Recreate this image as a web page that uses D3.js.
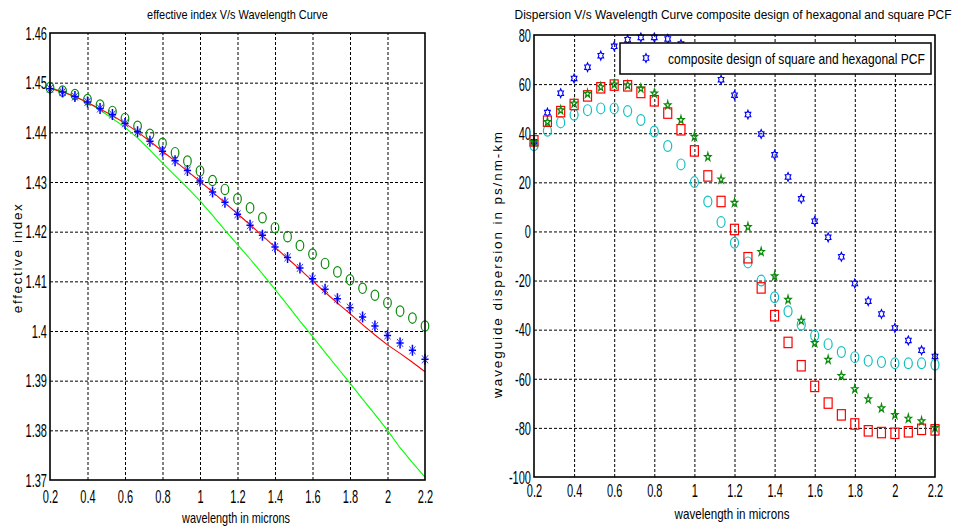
<!DOCTYPE html>
<html>
<head>
<meta charset="utf-8">
<script src="https://cdn.jsdelivr.net/npm/d3@7"></script>
<style>
  html, body { margin: 0; padding: 0; background: #fff; }
  svg { display: block; font-family: "Liberation Sans", Arial, sans-serif; }
</style>
</head>
<body>
<svg id="fig" width="954" height="528"></svg>
<script>
// ---- shared wavelength samples (microns) ----
const wavelength = [0.2, 0.267, 0.333, 0.4, 0.467, 0.533, 0.6, 0.667, 0.733, 0.8,
  0.867, 0.933, 1.0, 1.067, 1.133, 1.2, 1.267, 1.333, 1.4, 1.467,
  1.533, 1.6, 1.667, 1.733, 1.8, 1.867, 1.933, 2.0, 2.067, 2.133, 2.2];

// ---- effective index panel ----
const indexStars = [1.4488, 1.4481, 1.4472, 1.4461, 1.4448, 1.4436, 1.4418, 1.4401, 1.4382, 1.4362,
  1.4343, 1.4323, 1.4302, 1.4280, 1.4259, 1.4235, 1.4213, 1.4193, 1.4169, 1.4148,
  1.4127, 1.4105, 1.4084, 1.4065, 1.4047, 1.4028, 1.4010, 1.3991, 1.3976, 1.3961, 1.3943];
const indexCircles = [1.4490, 1.4483, 1.4476, 1.4466, 1.4455, 1.4442, 1.4428, 1.4412, 1.4396, 1.4378,
  1.4359, 1.4342, 1.4322, 1.4303, 1.4285, 1.4266, 1.4248, 1.4228, 1.4208, 1.4190,
  1.4172, 1.4155, 1.4136, 1.4119, 1.4103, 1.4086, 1.4072, 1.4057, 1.4040, 1.4026, 1.4010];
const indexRedLine = [1.4489, 1.4481, 1.4472, 1.4460, 1.4447, 1.4434, 1.4418, 1.4401, 1.4382, 1.4362,
  1.4342, 1.4322, 1.4301, 1.4280, 1.4258, 1.4236, 1.4214, 1.4192, 1.4169, 1.4146,
  1.4124, 1.4101, 1.4078, 1.4056, 1.4035, 1.4013, 1.3992, 1.3972, 1.3955, 1.3937, 1.3918];
const indexGreenLine = [1.4490, 1.4482, 1.4472, 1.4460, 1.4445, 1.4428, 1.4410, 1.4389, 1.4364, 1.4338,
  1.4313, 1.4288, 1.4262, 1.4233, 1.4203, 1.4174, 1.4145, 1.4115, 1.4084, 1.4052,
  1.4020, 1.3989, 1.3957, 1.3926, 1.3895, 1.3863, 1.3832, 1.3800, 1.3765, 1.3735, 1.3706];

// ---- dispersion panel (ps/nm-km) ----
const dispHexagram = [36.5, 48.4, 56.3, 62.3, 66.9, 71.6, 75.4, 78.1, 79.0, 79.0,
  78.4, 76.3, 72.8, 68.1, 61.8, 55.5, 47.6, 39.7, 31.2, 22.2,
  13.3, 4.2, -2.4, -10.3, -21.2, -28.4, -33.6, -39.3, -44.4, -48.4, -50.9];
const dispPentagram = [36.5, 44.6, 49.4, 52.1, 56.1, 58.8, 59.9, 59.6, 58.2, 56.2,
  51.4, 45.4, 38.6, 30.3, 21.2, 11.7, 1.8, -8.3, -18.2, -27.8,
  -36.3, -45.4, -52.2, -58.8, -64.2, -68.3, -72.0, -74.7, -76.2, -77.3, -79.9];
const dispSquares = [36.9, 44.9, 48.8, 51.7, 55.2, 58.5, 59.6, 59.3, 56.6, 53.2,
  48.2, 41.4, 32.8, 22.6, 12.2, 0.8, -10.7, -23.0, -34.3, -45.2,
  -54.7, -63.1, -69.9, -74.7, -78.4, -81.2, -81.9, -82.2, -81.6, -80.6, -80.8];
const dispCircles = [35.1, 41.0, 44.4, 47.5, 49.4, 50.1, 50.1, 49.0, 45.4, 40.7,
  34.8, 27.3, 20.1, 12.2, 3.8, -4.6, -12.6, -20.0, -26.8, -32.5,
  -38.0, -42.4, -45.9, -49.1, -51.2, -52.7, -53.2, -53.7, -53.7, -53.7, -54.3];

// ---- ticks and labels ----
const xTicks = [0.2, 0.4, 0.6, 0.8, 1.0, 1.2, 1.4, 1.6, 1.8, 2.0, 2.2];
const xTickLabels = ["0.2", "0.4", "0.6", "0.8", "1", "1.2", "1.4", "1.6", "1.8", "2", "2.2"];
const indexTicks = [1.37, 1.38, 1.39, 1.40, 1.41, 1.42, 1.43, 1.44, 1.45, 1.46];
const indexTickLabels = ["1.37", "1.38", "1.39", "1.4", "1.41", "1.42", "1.43", "1.44", "1.45", "1.46"];
const dispTicks = [-100, -80, -60, -40, -20, 0, 20, 40, 60, 80];
const dispTickLabels = ["-100", "-80", "-60", "-40", "-20", "0", "20", "40", "60", "80"];

const leftTitle = "effective index V/s Wavelength Curve";
const rightTitle = "Dispersion V/s Wavelength Curve composite design of hexagonal and square PCF";
const xTitle = "wavelength in microns";
const leftYTitle = "effective index";
const rightYTitle = "waveguide dispersion in ps/nm-km";
const legendLabel = "composite design of square and hexagonal PCF";

const svg = d3.select("#fig");

const TICK_FONT = 17.5;
const TICK_SQUEEZE = 0.63;

// Condensed text: drawn at natural size then squeezed horizontally.
function squeezedText(parent, x, y, str, opt) {
  const t = parent.append("text")
    .text(str)
    .attr("font-size", opt.size)
    .attr("text-anchor", opt.anchor || "start")
    .attr("fill", "#000");
  let sx = opt.sx || TICK_SQUEEZE;
  if (opt.width) sx = opt.width / t.node().getComputedTextLength();
  t.attr("transform", `translate(${x},${y}) scale(${sx},1)`);
  return t;
}

// Rotated axis title, letter-spaced to a given length.
function spacedVerticalText(parent, x, y, str, size, length) {
  const t = parent.append("text")
    .text(str)
    .attr("font-size", size)
    .attr("text-anchor", "middle")
    .attr("fill", "#000");
  const natural = t.node().getComputedTextLength();
  const spacing = (length - natural) / (str.length - 1);
  t.attr("letter-spacing", spacing)
    .attr("transform", `translate(${x},${y + spacing / 2}) rotate(-90)`);
  return t;
}

// marker shapes
function starPath(points, R, r, sx) {
  const pts = [];
  for (let k = 0; k < points * 2; k++) {
    const rad = k % 2 === 0 ? R : r;
    const a = -Math.PI / 2 + k * Math.PI / points;
    pts.push([rad * Math.cos(a) * sx, rad * Math.sin(a)]);
  }
  return "M" + pts.map(p => p[0].toFixed(2) + "," + p[1].toFixed(2)).join("L") + "Z";
}
const hexagramPath = starPath(6, 4.4, 4.4 / Math.sqrt(3), 0.75);
const pentagramPath = starPath(5, 4.3, 4.3 * 0.382, 0.8);
const plusPath = "M0,-5.5V5.5M-3.6,0H3.6";
const crossPath = "M-3,-4L3,4M-3,4L3,-4";

function panel(cfg) {
  const g = svg.append("g");
  const x = d3.scaleLinear().domain([0.2, 2.2]).range([cfg.left, cfg.right]);
  const y = d3.scaleLinear().domain(cfg.yDomain).range([cfg.bottom, cfg.top]);

  // dotted grid
  const gxGrid = g.append("g").attr("transform", `translate(0,${cfg.bottom})`)
    .call(d3.axisBottom(x).tickValues(xTicks.slice(1, -1)).tickSize(-(cfg.bottom - cfg.top)).tickFormat(""));
  const gyGrid = g.append("g").attr("transform", `translate(${cfg.left},0)`)
    .call(d3.axisLeft(y).tickValues(cfg.yTicks.slice(1, -1)).tickSize(-(cfg.right - cfg.left)).tickFormat(""));
  [gxGrid, gyGrid].forEach(s => {
    s.select(".domain").remove();
    s.selectAll("line").attr("stroke", "#000").attr("stroke-width", 1).attr("stroke-dasharray", "3,2");
  });

  // tick labels
  const ax = g.append("g").attr("transform", `translate(0,${cfg.bottom})`)
    .call(d3.axisBottom(x).tickValues(xTicks).tickSize(0).tickFormat((d, i) => xTickLabels[i]));
  ax.attr("font-family", null).attr("font-size", TICK_FONT);
  ax.select(".domain").remove();
  ax.selectAll("text").attr("y", null).attr("dy", null).attr("fill", "#000")
    .attr("transform", `translate(0,${cfg.xLabelDrop}) scale(${TICK_SQUEEZE},1)`);

  const ay = g.append("g").attr("transform", `translate(${cfg.left},0)`)
    .call(d3.axisLeft(y).tickValues(cfg.yTicks).tickSize(0).tickFormat((d, i) => cfg.yLabels[i]));
  ay.attr("font-family", null).attr("font-size", TICK_FONT);
  ay.select(".domain").remove();
  ay.selectAll("text").attr("x", null).attr("dy", "0.36em").attr("fill", "#000")
    .attr("transform", `translate(-3,0) scale(${TICK_SQUEEZE},1)`);

  return { g, x, y };
}

// ================= left: effective index =================
const L = panel({
  left: 50, right: 425, top: 33, bottom: 480,
  yDomain: [1.37, 1.46], yTicks: indexTicks, yLabels: indexTickLabels, xLabelDrop: 23
});

const lineGen = vals => d3.line().x((d, i) => L.x(wavelength[i])).y(d => L.y(d))(vals);
L.g.append("path").attr("d", lineGen(indexGreenLine)).attr("fill", "none").attr("stroke", "#00ff00").attr("stroke-width", 1.1);
L.g.append("path").attr("d", lineGen(indexRedLine)).attr("fill", "none").attr("stroke", "#ff0000").attr("stroke-width", 1.1);

L.g.append("g").selectAll("ellipse").data(indexCircles).join("ellipse")
  .attr("cx", (d, i) => L.x(wavelength[i])).attr("cy", d => L.y(d))
  .attr("rx", 3.8).attr("ry", 5.2)
  .attr("fill", "none").attr("stroke", "#0a8a0a").attr("stroke-width", 1.2);

const stars = L.g.append("g").selectAll("g").data(indexStars).join("g")
  .attr("transform", (d, i) => `translate(${L.x(wavelength[i])},${L.y(d)})`);
stars.append("path").attr("d", crossPath).attr("fill", "none").attr("stroke", "#3a3aff").attr("stroke-width", 1);
stars.append("path").attr("d", plusPath).attr("fill", "none").attr("stroke", "#0000ff").attr("stroke-width", 1.5);

L.g.append("rect").attr("x", 50).attr("y", 33).attr("width", 375).attr("height", 447)
  .attr("fill", "none").attr("stroke", "#000").attr("stroke-width", 1.6);

squeezedText(svg, 237.5, 19, leftTitle, { size: 13.5, anchor: "middle", width: 181 });
squeezedText(svg, 236, 523, xTitle, { size: 14, anchor: "middle", width: 108 });
spacedVerticalText(svg, 22, 257, leftYTitle, 13.5, 109);

// ================= right: dispersion =================
const R = panel({
  left: 534, right: 935, top: 35, bottom: 477,
  yDomain: [-100, 80], yTicks: dispTicks, yLabels: dispTickLabels, xLabelDrop: 20
});

R.g.append("g").selectAll("path").data(dispHexagram).join("path")
  .attr("d", hexagramPath)
  .attr("transform", (d, i) => `translate(${R.x(wavelength[i])},${R.y(d)})`)
  .attr("fill", "none").attr("stroke", "#0000ff").attr("stroke-width", 1.1);

R.g.append("g").selectAll("ellipse").data(dispCircles).join("ellipse")
  .attr("cx", (d, i) => R.x(wavelength[i])).attr("cy", d => R.y(d))
  .attr("rx", 4).attr("ry", 5.4)
  .attr("fill", "none").attr("stroke", "#10c0c0").attr("stroke-width", 1.2);

R.g.append("g").selectAll("rect").data(dispSquares).join("rect")
  .attr("x", (d, i) => R.x(wavelength[i]) - 4).attr("y", d => R.y(d) - 5.2)
  .attr("width", 8).attr("height", 10.4)
  .attr("fill", "none").attr("stroke", "#ff0000").attr("stroke-width", 1.2);

R.g.append("g").selectAll("path").data(dispPentagram).join("path")
  .attr("d", pentagramPath)
  .attr("transform", (d, i) => `translate(${R.x(wavelength[i])},${R.y(d)})`)
  .attr("fill", "none").attr("stroke", "#0a8a0a").attr("stroke-width", 1.2);

R.g.append("rect").attr("x", 534).attr("y", 35).attr("width", 401).attr("height", 442)
  .attr("fill", "none").attr("stroke", "#000").attr("stroke-width", 1.6);

// legend
const leg = svg.append("g");
leg.append("rect").attr("x", 620).attr("y", 43).attr("width", 311).attr("height", 31)
  .attr("fill", "#fff").attr("stroke", "#000").attr("stroke-width", 1.5);
leg.append("path").attr("d", hexagramPath).attr("transform", "translate(646,58)")
  .attr("fill", "none").attr("stroke", "#0000ff").attr("stroke-width", 1.1);
squeezedText(leg, 668, 64, legendLabel, { size: 15, anchor: "start", width: 257 });

squeezedText(svg, 733, 19, rightTitle, { size: 13.5, anchor: "middle", width: 437 });
squeezedText(svg, 732, 519, xTitle, { size: 14, anchor: "middle", width: 115 });
spacedVerticalText(svg, 502, 263, rightYTitle, 13.5, 266);
</script>
</body>
</html>
